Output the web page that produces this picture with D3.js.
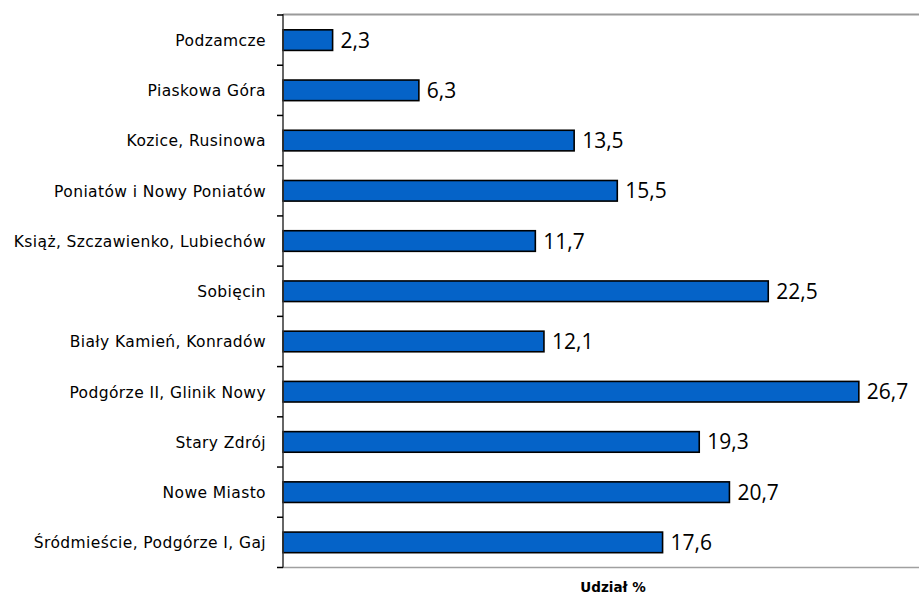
<!DOCTYPE html>
<html>
<head>
<meta charset="utf-8">
<script src="https://cdn.jsdelivr.net/npm/d3@7"></script>
<style>
  html, body { margin: 0; padding: 0; background: #fff; }
  svg { display: block; }
</style>
</head>
<body>
<svg id="chart" width="919" height="596"></svg>
<script>
const categories = [
  "Podzamcze",
  "Piaskowa Góra",
  "Kozice, Rusinowa",
  "Poniatów i Nowy Poniatów",
  "Książ, Szczawienko, Lubiechów",
  "Sobięcin",
  "Biały Kamień, Konradów",
  "Podgórze II, Glinik Nowy",
  "Stary Zdrój",
  "Nowe Miasto",
  "Śródmieście, Podgórze I, Gaj"
];
const values = [2.3, 6.3, 13.5, 15.5, 11.7, 22.5, 12.1, 26.7, 19.3, 20.7, 17.6];
const axisTitle = "Udział %";

(function () {
const svg = d3.select("#chart");
const pLeft = 283, pRight = 930, pTop = 15, pBottom = 567.5;

const x = d3.scaleLinear().domain([0, 30]).range([pLeft, pRight]);
const y = d3.scaleBand().domain(categories).range([pTop, pBottom]).paddingInner(0.59).paddingOuter(0.295);

// top and bottom plot borders
svg.append("line").attr("x1", pLeft).attr("x2", 919).attr("y1", pTop - 0.5).attr("y2", pTop - 0.5)
  .attr("stroke", "#9a9a9a").attr("stroke-width", 2);
svg.append("line").attr("x1", pLeft).attr("x2", 919).attr("y1", pBottom).attr("y2", pBottom)
  .attr("stroke", "#a0a0a0").attr("stroke-width", 1.5);

// bars
svg.append("g").selectAll("rect").data(values).join("rect")
  .attr("x", x(0))
  .attr("y", (d, i) => y(categories[i]))
  .attr("width", d => x(d) - x(0))
  .attr("height", y.bandwidth())
  .attr("fill", "#0563c8")
  .attr("stroke", "#000")
  .attr("stroke-width", 1.6);

// value labels
svg.append("g").selectAll("text").data(values).join("text")
  .attr("x", d => x(d) + 8)
  .attr("y", (d, i) => y(categories[i]) + y.bandwidth() / 2)
  .attr("dy", "0.36em")
  .attr("font-family", "'Open Sans', sans-serif")
  .attr("font-size", 21)
  .attr("fill", "#000")
  .text(d => d3.format(".1f")(d).replace(".", ","));

// y axis line
svg.append("line").attr("x1", pLeft).attr("x2", pLeft).attr("y1", pTop - 1).attr("y2", pBottom)
  .attr("stroke", "#333").attr("stroke-width", 1.5);

// ticks at category boundaries
const boundaries = d3.range(categories.length + 1).map(i => pTop + i * (pBottom - pTop) / categories.length);
svg.append("g").selectAll("line").data(boundaries).join("line")
  .attr("x1", pLeft - 6).attr("x2", pLeft).attr("y1", d => d).attr("y2", d => d)
  .attr("stroke", "#000").attr("stroke-width", 1.5);

// category labels
svg.append("g").selectAll("text").data(categories).join("text")
  .attr("x", pLeft - 17)
  .attr("y", d => y(d) + y.bandwidth() / 2)
  .attr("dy", "0.38em")
  .attr("text-anchor", "end")
  .attr("font-family", "'DejaVu Sans', sans-serif")
  .attr("font-size", 15.5)
  .attr("letter-spacing", 0.4)
  .attr("fill", "#000")
  .text(d => d);

// axis title
svg.append("text")
  .attr("x", 613).attr("y", 592)
  .attr("text-anchor", "middle")
  .attr("font-family", "'DejaVu Sans', sans-serif")
  .attr("font-weight", "bold")
  .attr("font-size", 13.5)
  .text(axisTitle);
})();
</script>
</body>
</html>
